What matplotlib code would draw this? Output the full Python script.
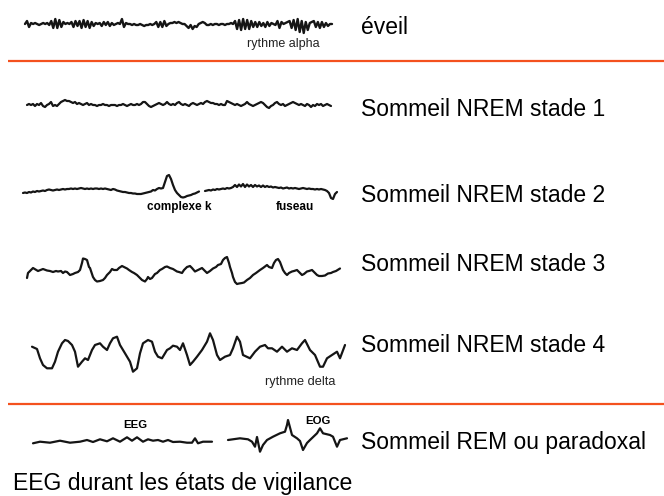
import numpy as np
import matplotlib.pyplot as plt

plt.rcParams['font.family'] = ['Liberation Sans', 'DejaVu Sans']

# stage labels (right column) and small annotations
stages = ['éveil', 'Sommeil NREM stade 1', 'Sommeil NREM stade 2',
          'Sommeil NREM stade 3', 'Sommeil NREM stade 4',
          'Sommeil REM ou paradoxal']
titre = 'EEG durant les états de vigilance'

# EEG traces, amplitude in pixels (up = positive)
eveil = [0, 3, -3, 1,
         0, 1, 0, -1, 0, 1, 0, 1, -1,
         3, -4, 5, -4, 4, -3, 2,
         0, 1, 0,
         2, -3, 3, -2, 3, -4, 4, -3, 3, -4, 2, -2, 1, 0,
         1, -2, 2, -1, 2, -2, 1, -1, 0, 1,
         0, 5, -3, 1, 0,
         0, -1, 0, -1, -1, 0, -1, -2, -1, -1, 0, -1, 0,
         2, -3, 2, -3, 3, -2, 0,
         1, 1, 2, 1, 2, 1, 0, 0,
         -2, -4, -1, -5, -2, -3, 0, 1, 2, 1,
         -1, -1, 0, -1, 0, 0, -1, 0, 0, -1, 0, 0, 1, 0,
         3, -5, 4, -6, 5, -5, 4, -5, 3, -3,
         2, -3, 2, -2, 1, -3, 2, -2, 1,
         0, -1, 3, -4, 2, 0, 1, 2,
         3, -4, 4, -6, 5, -8, 3, -9, 2, -6,
         1, 2, 3, -3, 2, -4, 2, -3, 1, -2, 0, 0]

stade1 = [0, 1, 0, 1, -1, 1, 0, 2, -1, -2, 0, 1, 3, -1, 0,
          -1, 1, 3, 4, 5, 4, 4,
          3, 2, 3, 1, 2, 1, 0, 1, 2, 0, 1, 0,
          0, -1, 0, 0, 1, 0, 0, -1, 0, 0, 0, -1, 0, 0, 1, 0, -1, 0, 1, 0, 0, 1, 0,
          1, 3, 3, 1, -1, -2, -1,
          0, 1, 2, 1, 0, 1, 3, 1, 0, 1, 0, 2, 3, 1, 0, 1, 0, -1, 1, 2, 1, 0, 1, 2, 1, 3, 4,
          3, 2, 2, 1, 1, 0, 1, 0, 0, 4,
          3, 2, 1, 0, 1, 0, -1, 0, 1, 3,
          1, 0, -1, 0, 1, 2, 3, 2, 0, -2, -3, -1, 0,
          2, 3, 1, 0, 1, -1, 0, 1, 2, 3, 2, 1,
          0, 1, 0, -1, 1, 0, -2, 0, -1, 1, 0, 1, -1, 0, 1, 0, -1]

stade2_a = [-3, -2.5, -3, -2, -2.5, -1.5, -2, -1, -1.5, -1,
            -0.5, -1, 0, 0.5, 0, -0.5, 0, 0.5, 0, 0.5,
            1, 0.5, 1, 1, 1.5, 1, 1.5, 1, 1.5, 2, 1.5, 1, 1.5, 1, 1.5, 1, 1.5, 1.5, 1, 1.5, 1, 1.5, 1,
            0.5, 0, 1, 0.5, -0.5, -1, -1.5, -2, -2, -2.5, -3, -3, -3.5, -3.5, -4, -4, -4, -3.5, -3,
            -2.5, -2, -1.5, 0, -0.5, 1, 2, 1.5,
            2, 8, 14, 15, 11, 5, 0, -3,
            -5, -7, -7.5, -7, -6, -5.5, -5, -4, -3.5, -2.5, -1.5]

stade2_b = [-1, -0.5, 0, -0.5, 0.5, 0, 1, 0.5, 1, 1.5, 1, 2, 1.5, 2,
            3, 5, 3, 5.5, 3.5, 6, 3, 5.5, 3.5, 5, 3, 5, 3.5, 4.5, 3, 4.5, 3, 4, 3, 3.5, 2.5,
            3, 2.5, 2, 2.5, 1.5, 2, 2.5, 1.5, 2, 1.5, 2, 1.5, 1, 1.5, 2, 1.5, 1, 1.5, 1, 1,
            0.5, 1, 0.5, 1, 0.5, 0, -1, -3, -8, -9, -4, -2]

stade3_t = [27, 28, 33, 38, 43, 47, 50, 53, 56, 58, 61, 63, 65, 67, 70, 73, 75, 78, 80, 82,
            83, 85, 87, 89, 90, 92, 93, 95, 97, 100, 103, 105, 107, 110, 112, 114, 117, 119,
            122, 124, 127, 129, 132, 134, 137, 139, 142, 145, 147, 148, 150, 152, 155, 157,
            160, 162, 165, 167, 170, 173, 177, 179, 182, 184, 187, 190, 192, 195, 198, 202,
            204, 207, 210, 213, 216, 218, 221, 223, 225, 227, 229, 230, 232, 233, 235, 237,
            239, 242, 244, 247, 250, 253, 256, 260, 263, 267, 269, 272, 274, 276, 278, 280,
            283, 285, 287, 289, 292, 294, 297, 299, 302, 304, 307, 309, 312, 314, 317, 319,
            322, 325, 328, 331, 333, 336, 340]
stade3 = [-5, 0, 5, 2, 4, 2.5, 2, 1, 2, 1.5, 2, 0, 1.5, 1, -2, -1, 0, 1, 3, 10,
          14.5, 14, 13, 6, 5, -1, -4, -7, -8.5, -8, -7, -5, -2, 1, 4, 3, 3, 5,
          7, 6, 4.5, 3, 1, 0, -2, -4, -7, -8.5, -6, -4, -6, -5, -1, 0,
          3, 4, 6, 6.5, 5, 4, 1.5, 1, 0, 3, 6, 7, 5, 1.5, 3, 5,
          3, 0, 2, 4.5, 6, 8, 9, 13, 15, 16, 10, 6, 0, -4, -9, -11,
          -10.5, -10, -9.5, -7, -5, -2, 0, 3, 5, 8, 6, 5, 10, 13, 14, 11,
          3, 0, -2, 0, 1.5, 2, 3, 1, -2, -1, 1.5, 2, 3, 1, -2, -3,
          -3, -2.5, -0.5, 0, 1, 2, 4.5]

stade4_t = [32, 37, 40, 43, 47, 52, 55, 58, 62, 65, 68, 72, 75, 78, 82, 85, 88, 92, 95,
            100, 103, 107, 110, 113, 117, 120, 125, 130, 133, 137, 140, 143, 148, 152, 155,
            158, 162, 167, 170, 173, 177, 180, 183, 187, 190, 193, 197, 202, 207, 210, 213,
            217, 220, 225, 230, 233, 237, 240, 243, 250, 255, 260, 265, 268, 272, 277, 282,
            287, 292, 297, 302, 305, 310, 315, 320, 323, 327, 332, 337, 340, 345]
stade4 = [5.3, 3, -6.3, -13, -16.3, -16.3, -9.7, 0.3, 8.7, 12, 11, 7, 0.3, -14.7, -9.7,
          -6.3, -8, 2, 7, 8.7, 5.3, 2, 8.7, 13.7, 15.3, 7, -1.3, -9.7, -19.7, -16.3, -1.3,
          8.7, 12, 10.3, 0.3, -4.7, -6.3, 2, 3.7, 6.3, 5.3, 2, 8.7, -3, -13, -9.7, -4.7,
          2, 10.3, 18.7, 12, -3, -8, -4.7, -3, 3.7, 15.3, 10.3, -3, -6.3, 0.3, 5.3, 7,
          3.7, 3.7, 0.3, 5.3, 0.3, 3.7, 2, 8.7, 12, 2, -3, -14.7, -14.7, -6.3, -3, 0.3,
          -6.3, 7]

rem_eeg_t = [33, 40, 50, 60, 70, 80, 87, 93, 100, 107, 113, 120, 127, 132, 137, 143, 148,
             153, 158, 163, 168, 173, 180, 187, 192, 195, 198, 203, 212]
rem_eeg = [-0.3, 1.3, 0.3, 2.3, 0.3, 1.3, 3, 1, 3.7, 1.7, 4.7, 1.3, 5.7, 2.3, 5.7, 1.3,
           3.7, 2.3, 3, 1.3, 3, 1, 1.3, 0.3, 0.3, 4.7, -0.3, 1.3, 1.3]
rem_eog_t = [228, 240, 248, 252, 255, 257, 260, 263, 267, 273, 280, 285, 287, 288, 292,
             297, 300, 303, 307, 310, 317, 320, 323, 330, 333, 337, 340, 347]
rem_eog = [3, 4.7, 3.7, 1.3, -3.7, 6, -8.7, -2, 3, 6.3, 9.7, 11.3, 18, 23, 8, 4.7, 2,
           -7, 0, 3, 9.7, 14.7, 9.7, 8, 6.3, -3.7, 3, 4.7]

fig = plt.figure(figsize=(6.64, 4.96), dpi=100)
ax = fig.add_axes([0, 0, 1, 1])
ax.set_xlim(0, 664)
ax.set_ylim(496, 0)
ax.axis('off')


def trace(t, amp, base, lw=1.6):
    ax.plot(t, base - np.asarray(amp, dtype=float), color='#151515', lw=lw,
            solid_joinstyle='round', solid_capstyle='round')


trace(np.linspace(25, 332, len(eveil)), eveil, 24, lw=1.7)
trace(np.linspace(27, 331, len(stade1)), stade1, 105)
trace(np.linspace(23, 199, len(stade2_a)), stade2_a, 190)
trace(np.linspace(205, 337, len(stade2_b)), stade2_b, 190)
trace(stade3_t, stade3, 273)
trace(stade4_t, stade4, 352)
trace(rem_eeg_t, rem_eeg, 443)
trace(rem_eog_t, rem_eog, 443)

# orange separators
for y in (61, 404):
    ax.plot([8, 664], [y, y], color='#f4511e', lw=1.6, solid_capstyle='butt')

for lab, yb in zip(stages, [34, 116, 202, 271, 352, 449]):
    ax.text(361, yb, lab, fontsize=16.5, va='baseline', ha='left', color='black')

ax.text(13, 490, titre, fontsize=16.6, va='baseline', ha='left', color='black')

ax.text(247, 44, 'rythme alpha', fontsize=9, va='center', color='#222222')
ax.text(147, 207, 'complexe k', fontsize=8.5, fontweight='bold', va='center')
ax.text(276, 207, 'fuseau', fontsize=8.5, fontweight='bold', va='center')
ax.text(265, 382, 'rythme delta', fontsize=9.2, va='center', color='#222222')
ax.text(123, 425, 'EEG', fontsize=8.2, fontweight='bold', va='center')
ax.text(305, 421, 'EOG', fontsize=8.2, fontweight='bold', va='center')

fig.savefig('out.png', dpi=100)
